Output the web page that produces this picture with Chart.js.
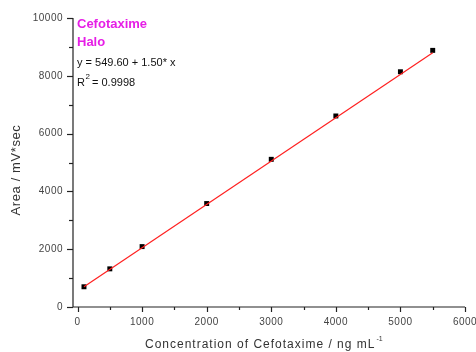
<!DOCTYPE html>
<html>
<head>
  <meta charset="utf-8" />
  <title>Cefotaxime calibration</title>
  <script src="https://cdn.jsdelivr.net/npm/chart.js"></script>
  <style>
    body { margin: 0; background: #fff; }
    #wrap { width: 476px; height: 352px; }
  </style>
</head>
<body>
  <div id="wrap"><canvas id="calChart" width="476" height="352"></canvas></div>

  <script>
    // concentraciones (ng/mL) y áreas
    const concentrations = [100, 500, 1000, 2000, 3000, 4000, 5000, 5500];
    const areas = [700, 1320, 2090, 3580, 5110, 6610, 8140, 8880];

    // recta de ajuste (extremos)
    const fitX = [100, 5500];
    const fitY = [700, 8800];

    // marcas de los ejes
    const xTicks = [0, 500, 1000, 1500, 2000, 2500, 3000, 3500, 4000, 4500, 5000, 5500, 6000];
    const xLabels = [0, 1000, 2000, 3000, 4000, 5000, 6000];
    const yTicks = [0, 1000, 2000, 3000, 4000, 5000, 6000, 7000, 8000, 9000, 10000];
    const yLabels = [0, 2000, 4000, 6000, 8000, 10000];

    const annotations = ['Cefotaxime', 'Halo'];
    const equationText = 'y = 549.60 + 1.50* x';
    const r2Text = '0.9998';

    const FONT = '"Liberation Sans", Arial, sans-serif';

    // dibuja ejes, marcas, etiquetas y textos
    const axesPlugin = {
      id: 'axesPlugin',
      afterDraw(chart) {
        const c = chart.ctx;
        const xs = chart.scales.x;
        const ys = chart.scales.y;
        const area = chart.chartArea;
        c.save();
        c.strokeStyle = '#222';
        c.lineWidth = 1.2;

        // líneas de los ejes
        c.beginPath();
        c.moveTo(area.left, area.top);
        c.lineTo(area.left, area.bottom);
        c.lineTo(area.right, area.bottom);
        c.stroke();

        // marcas eje Y
        yTicks.forEach(v => {
          const py = Math.round(ys.getPixelForValue(v)) + 0.5;
          const len = yLabels.includes(v) ? 6 : 4;
          c.beginPath();
          c.moveTo(area.left - len, py);
          c.lineTo(area.left, py);
          c.stroke();
        });
        // marcas eje X
        xTicks.forEach(v => {
          const px = Math.round(xs.getPixelForValue(v)) + 0.5;
          const len = xLabels.includes(v) ? 5 : 3;
          c.beginPath();
          c.moveTo(px, area.bottom);
          c.lineTo(px, area.bottom + len);
          c.stroke();
        });

        // etiquetas
        c.fillStyle = '#444';
        c.font = '10px ' + FONT;
        c.letterSpacing = '0.5px';
        c.textAlign = 'right';
        c.textBaseline = 'middle';
        yLabels.forEach(v => {
          c.fillText(String(v), area.left - 10, ys.getPixelForValue(v));
        });
        c.textAlign = 'center';
        c.textBaseline = 'middle';
        xLabels.forEach(v => {
          c.fillText(String(v), xs.getPixelForValue(v), 322);
        });

        // título eje Y
        c.fillStyle = '#333';
        c.font = '13px ' + FONT;
        c.letterSpacing = '0.6px';
        c.save();
        c.translate(16, 170);
        c.rotate(-Math.PI / 2);
        c.textAlign = 'center';
        c.textBaseline = 'middle';
        c.fillText('Area / mV*sec', 0, 0);
        c.restore();

        // título eje X con superíndice
        c.textAlign = 'left';
        c.textBaseline = 'middle';
        c.font = '12px ' + FONT;
        c.letterSpacing = '1px';
        const xt = 'Concentration of Cefotaxime / ng mL';
        const w = c.measureText(xt).width;
        const x0 = 145;
        c.fillText(xt, x0, 345);
        c.letterSpacing = '0px';
        c.font = '7px ' + FONT;
        c.fillText('-1', x0 + w + 1, 339);

        // anotaciones
        c.letterSpacing = '0px';
        c.fillStyle = '#e61ee6';
        c.font = 'bold 13px ' + FONT;
        c.fillText(annotations[0], 77, 24);
        c.fillText(annotations[1], 77, 42);

        c.fillStyle = '#111';
        c.font = '11px ' + FONT;
        c.fillText(equationText, 77, 63);
        c.fillText('R', 77, 83);
        const rw = c.measureText('R').width;
        c.font = '8px ' + FONT;
        c.fillText('2', 77 + rw + 0.5, 77);
        c.font = '11px ' + FONT;
        c.fillText(' = ' + r2Text, 77 + rw + 4, 83);

        c.restore();
      }
    };

    const ctx = document.getElementById('calChart').getContext('2d');
    const calChart = new Chart(ctx, {
      type: 'scatter',
      data: {
        datasets: [
          {
            label: 'Ajuste',
            data: fitX.map((x, i) => ({ x: x, y: fitY[i] })),
            showLine: true,
            borderColor: '#ff2020',
            borderWidth: 1.2,
            pointRadius: 0,
            fill: false
          },
          {
            label: 'Cefotaxime',
            data: concentrations.map((x, i) => ({ x: x, y: areas[i] })),
            pointStyle: 'rect',
            pointRadius: 3.5,
            backgroundColor: '#000',
            borderColor: '#000',
            borderWidth: 0
          }
        ]
      },
      options: {
        responsive: false,
        animation: false,
        layout: {
          padding: { left: 73, right: 11, top: 18, bottom: 45 }
        },
        plugins: {
          legend: { display: false },
          tooltip: { enabled: false }
        },
        scales: {
          x: { type: 'linear', min: -70, max: 6000, display: false },
          y: { type: 'linear', min: 0, max: 10000, display: false }
        }
      },
      plugins: [axesPlugin]
    });
  </script>
</body>
</html>
